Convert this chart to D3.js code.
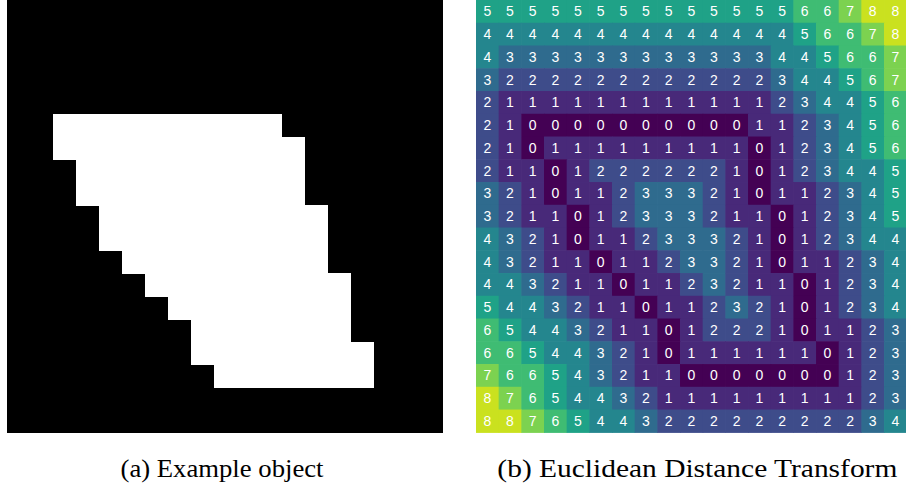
<!DOCTYPE html>
<html>
<head>
<meta charset="utf-8">
<script src="https://cdn.jsdelivr.net/npm/d3@7/dist/d3.min.js"></script>
<style>
  html, body { margin: 0; padding: 0; background: #ffffff; }
  svg { display: block; }
</style>
</head>
<body>
<svg id="fig" width="906" height="490"></svg>
<script>
// Grid size of the binary image and of its distance map
const gridSize = 19;

// Foreground rows of the example object: row index, first and last filled column
const objectRows  = [5, 6, 7, 8, 9, 10, 11, 12, 13, 14, 15, 16];
const objectStart = [2, 2, 3, 3, 4, 4, 5, 6, 7, 8, 8, 9];
const objectEnd   = [11, 12, 12, 12, 13, 13, 13, 14, 14, 14, 15, 15];

// Distance value of every pixel, row by row
const distRow0  = [5, 5, 5, 5, 5, 5, 5, 5, 5, 5, 5, 5, 5, 5, 6, 6, 7, 8, 8];
const distRow1  = [4, 4, 4, 4, 4, 4, 4, 4, 4, 4, 4, 4, 4, 4, 5, 6, 6, 7, 8];
const distRow2  = [4, 3, 3, 3, 3, 3, 3, 3, 3, 3, 3, 3, 3, 4, 4, 5, 6, 6, 7];
const distRow3  = [3, 2, 2, 2, 2, 2, 2, 2, 2, 2, 2, 2, 2, 3, 4, 4, 5, 6, 7];
const distRow4  = [2, 1, 1, 1, 1, 1, 1, 1, 1, 1, 1, 1, 1, 2, 3, 4, 4, 5, 6];
const distRow5  = [2, 1, 0, 0, 0, 0, 0, 0, 0, 0, 0, 0, 1, 1, 2, 3, 4, 5, 6];
const distRow6  = [2, 1, 0, 1, 1, 1, 1, 1, 1, 1, 1, 1, 0, 1, 2, 3, 4, 5, 6];
const distRow7  = [2, 1, 1, 0, 1, 2, 2, 2, 2, 2, 2, 1, 0, 1, 2, 3, 4, 4, 5];
const distRow8  = [3, 2, 1, 0, 1, 1, 2, 3, 3, 3, 2, 1, 0, 1, 1, 2, 3, 4, 5];
const distRow9  = [3, 2, 1, 1, 0, 1, 2, 3, 3, 3, 2, 1, 1, 0, 1, 2, 3, 4, 5];
const distRow10 = [4, 3, 2, 1, 0, 1, 1, 2, 3, 3, 3, 2, 1, 0, 1, 2, 3, 4, 4];
const distRow11 = [4, 3, 2, 1, 1, 0, 1, 1, 2, 3, 3, 2, 1, 0, 1, 1, 2, 3, 4];
const distRow12 = [4, 4, 3, 2, 1, 1, 0, 1, 1, 2, 3, 2, 1, 1, 0, 1, 2, 3, 4];
const distRow13 = [5, 4, 4, 3, 2, 1, 1, 0, 1, 1, 2, 3, 2, 1, 0, 1, 2, 3, 4];
const distRow14 = [6, 5, 4, 4, 3, 2, 1, 1, 0, 1, 2, 2, 2, 1, 0, 1, 1, 2, 3];
const distRow15 = [6, 6, 5, 4, 4, 3, 2, 1, 0, 1, 1, 1, 1, 1, 1, 0, 1, 2, 3];
const distRow16 = [7, 6, 6, 5, 4, 3, 2, 1, 1, 0, 0, 0, 0, 0, 0, 0, 1, 2, 3];
const distRow17 = [8, 7, 6, 5, 4, 4, 3, 2, 1, 1, 1, 1, 1, 1, 1, 1, 1, 2, 3];
const distRow18 = [8, 8, 7, 6, 5, 4, 4, 3, 2, 2, 2, 2, 2, 2, 2, 2, 2, 3, 4];

const panelCaptions = ["(a) Example object", "(b) Euclidean Distance Transform"];

const distanceRows = [distRow0, distRow1, distRow2, distRow3, distRow4, distRow5,
  distRow6, distRow7, distRow8, distRow9, distRow10, distRow11, distRow12,
  distRow13, distRow14, distRow15, distRow16, distRow17, distRow18];

const svg = d3.select("#fig");
const idx = d3.range(gridSize);

// ---------- panel (a): binary image ----------
const ax = d3.scaleBand().domain(idx).range([7, 443]).padding(0);
const ay = d3.scaleBand().domain(idx).range([0, 433]).padding(0);

const left = svg.append("g").attr("class", "panel-a");
left.append("rect")
  .attr("x", ax.range()[0]).attr("y", ay.range()[0])
  .attr("width", ax.range()[1] - ax.range()[0])
  .attr("height", ay.range()[1] - ay.range()[0])
  .attr("fill", "#000000");

const runs = objectRows.map((r, i) => ({ row: r, c0: objectStart[i], c1: objectEnd[i] }));
left.selectAll("rect.fg")
  .data(runs)
  .join("rect")
  .attr("class", "fg")
  .attr("x", d => ax(d.c0))
  .attr("y", d => ay(d.row))
  .attr("width", d => ax(d.c1) + ax.bandwidth() - ax(d.c0))
  .attr("height", ay.bandwidth() + 0.5)
  .attr("fill", "#ffffff")
  .attr("shape-rendering", "crispEdges");

// ---------- panel (b): distance map ----------
const bx = d3.scaleBand().domain(idx).range([476, 906.7]).padding(0);
const by = d3.scaleBand().domain(idx).range([0, 432.3]).padding(0);
const colour = d3.scaleSequential(d3.interpolateViridis).domain([0, 8.7]);

const cells = [];
distanceRows.forEach((row, r) => row.forEach((v, c) => cells.push({ r, c, v })));

const right = svg.append("g").attr("class", "panel-b");
right.selectAll("rect.cell")
  .data(cells)
  .join("rect")
  .attr("class", "cell")
  .attr("x", d => bx(d.c))
  .attr("y", d => by(d.r))
  .attr("width", bx.bandwidth() + 0.6)
  .attr("height", by.bandwidth() + 0.6)
  .attr("fill", d => colour(d.v));

right.selectAll("text.val")
  .data(cells)
  .join("text")
  .attr("class", "val")
  .attr("x", d => bx(d.c) + bx.bandwidth() / 2)
  .attr("y", d => by(d.r) + by.bandwidth() / 2)
  .attr("text-anchor", "middle")
  .attr("dominant-baseline", "central")
  .attr("font-family", "'Liberation Sans', Arial, sans-serif")
  .attr("font-size", 14)
  .attr("fill", "#ffffff")
  .text(d => d3.format("d")(d.v));

// ---------- captions ----------
const captionX = [(ax.range()[0] + ax.range()[1]) / 2 - 3, (bx.range()[0] + bx.range()[1]) / 2 + 6];
const captionW = [203, 400];
svg.selectAll("text.caption")
  .data(panelCaptions)
  .join("text")
  .attr("class", "caption")
  .attr("x", (d, i) => captionX[i])
  .attr("y", 477)
  .attr("text-anchor", "middle")
  .attr("font-family", "'Liberation Serif', 'DejaVu Serif', serif")
  .attr("font-size", 25)
  .attr("fill", "#000000")
  .attr("textLength", (d, i) => captionW[i])
  .attr("lengthAdjust", "spacingAndGlyphs")
  .text(d => d);
</script>
</body>
</html>
